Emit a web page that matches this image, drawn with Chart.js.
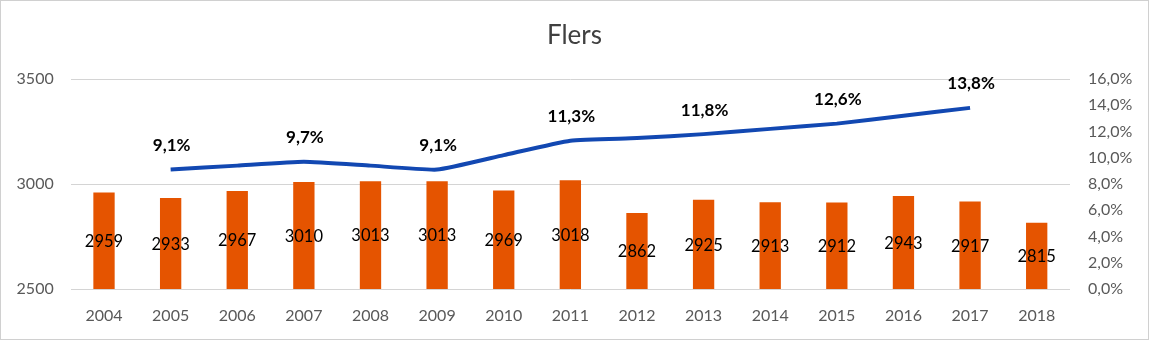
<!DOCTYPE html>
<html>
<head>
<meta charset="utf-8">
<script src="https://cdn.jsdelivr.net/npm/chart.js@4/dist/chart.umd.min.js"></script>
<style>
  html, body { margin: 0; padding: 0; background: #fff; }
  canvas { display: block; }
</style>
</head>
<body>
<canvas id="chart" width="1149" height="340"></canvas>
<script>
// Yearly figures for Flers
const years = ['2004','2005','2006','2007','2008','2009','2010','2011','2012','2013','2014','2015','2016','2017','2018'];
const counts = [2959, 2933, 2967, 3010, 3013, 3013, 2969, 3018, 2862, 2925, 2913, 2912, 2943, 2917, 2815];
// Rate in percent (no value for 2004 and 2018)
const rates = [null, 9.1, 9.4, 9.7, 9.4, 9.1, 10.2, 11.3, 11.5, 11.8, 12.2, 12.6, 13.2, 13.8, null];
// Years whose rate is printed above the line
const labeledRateYears = ['2005', '2007', '2009', '2011', '2013', '2015', '2017'];
const countTicks = { min: 2500, max: 3500, step: 500 };
const rateTicks = { min: 0, max: 16, step: 2 };

const FONT = 'Lato, "Open Sans", sans-serif';
const fmtPct = (v) => v.toFixed(1).replace('.', ',') + '%';

const valueLabels = {
  id: 'valueLabels',
  afterDatasetsDraw(chart) {
    const ctx = chart.ctx;
    const yScale = chart.scales.y;
    ctx.save();
    // counts, centred inside each bar
    const barMeta = chart.getDatasetMeta(1);
    ctx.font = '16.5px ' + FONT;
    ctx.fillStyle = '#000000';
    ctx.textAlign = 'center';
    ctx.textBaseline = 'middle';
    barMeta.data.forEach((bar, i) => {
      const top = yScale.getPixelForValue(counts[i]);
      const base = yScale.getPixelForValue(countTicks.min);
      ctx.fillText(String(counts[i]), bar.x, (top + base) / 2 + 1);
    });
    // rates, above the line
    const lineMeta = chart.getDatasetMeta(0);
    ctx.font = 'bold 17px ' + FONT;
    lineMeta.data.forEach((pt, i) => {
      if (rates[i] == null || !labeledRateYears.includes(years[i])) return;
      ctx.fillText(fmtPct(rates[i]), pt.x + 1, pt.y - 24);
    });
    ctx.restore();
  },
  afterDraw(chart) {
    const ctx = chart.ctx;
    ctx.save();
    ctx.strokeStyle = '#d0d0d0';
    ctx.lineWidth = 1;
    ctx.strokeRect(0.5, 0.5, chart.width - 1, chart.height - 1);
    ctx.restore();
  }
};

new Chart(document.getElementById('chart'), {
  data: {
    labels: years,
    datasets: [
      {
        type: 'line',
        data: rates,
        yAxisID: 'y1',
        borderColor: '#1248B2',
        borderWidth: 4,
        pointRadius: 0,
        tension: 0.15,
        fill: false,
        order: 0
      },
      {
        type: 'bar',
        data: counts,
        yAxisID: 'y',
        backgroundColor: '#E55400',
        categoryPercentage: 1,
        barPercentage: 0.32,
        order: 1
      }
    ]
  },
  options: {
    responsive: false,
    animation: false,
    events: [],
    layout: { padding: 0 },
    plugins: {
      legend: { display: false },
      tooltip: { enabled: false },
      title: {
        display: true,
        text: 'Flers',
        color: '#404040',
        font: { family: FONT, size: 26, weight: 'normal' },
        padding: { top: 20, bottom: 27.8 }
      }
    },
    scales: {
      x: {
        offset: true,
        grid: { display: false, drawTicks: false },
        border: { display: false },
        ticks: { color: '#595959', font: { family: FONT, size: 16 }, padding: 17, maxRotation: 0, autoSkip: false },
        afterFit(s) { s.height = 51; }
      },
      y: {
        position: 'left',
        min: countTicks.min,
        max: countTicks.max,
        grid: { color: '#d4d4d4', lineWidth: 1, drawTicks: false },
        border: { display: false },
        ticks: { stepSize: countTicks.step, color: '#595959', font: { family: FONT, size: 16 }, padding: 17,
                 callback: (v) => String(v) },
        afterFit(s) { s.width = 70.7; }
      },
      y1: {
        position: 'right',
        min: rateTicks.min,
        max: rateTicks.max,
        grid: { display: false, drawTicks: false },
        border: { display: false },
        ticks: { stepSize: rateTicks.step, color: '#595959', font: { family: FONT, size: 16 }, padding: 18,
                 callback: (v) => fmtPct(v) },
        afterFit(s) { s.width = 79; }
      }
    }
  },
  plugins: [valueLabels]
});
</script>
</body>
</html>
